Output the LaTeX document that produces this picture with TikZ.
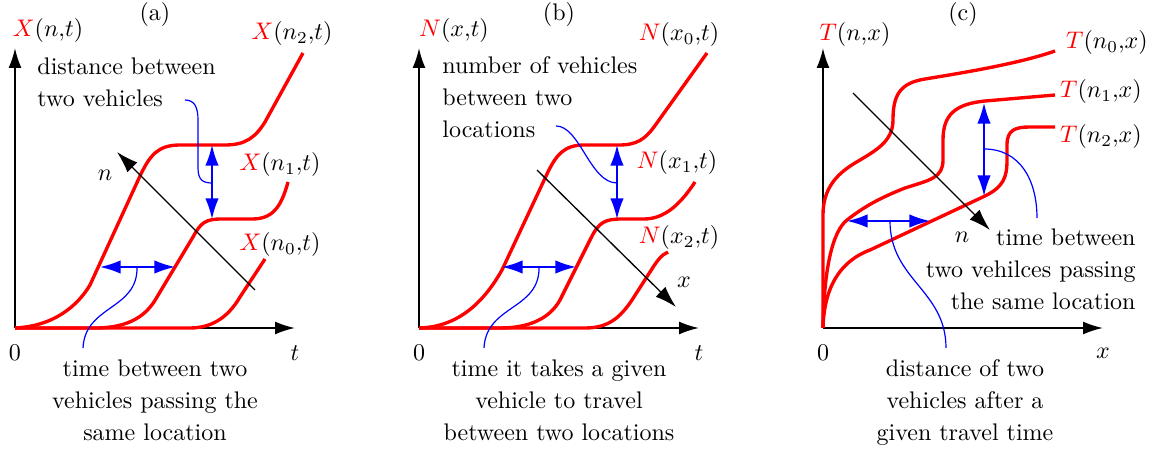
\documentclass[tikz,border=0pt]{standalone}
\usepackage{amsmath,amssymb}
\usetikzlibrary{arrows.meta}

\newcommand{\redsym}[1]{\textcolor{red}{#1}}

\begin{document}
\begin{tikzpicture}[x=0.41667pt,y=-0.41667pt,
    axisline/.style={line width=0.8pt,-{Latex[length=8.3pt,width=5.4pt]}},
    traj/.style={red,line width=1.4pt},
    gaparrow/.style={blue,line width=0.7pt,{Latex[length=8.6pt,width=5.6pt]}-{Latex[length=8.6pt,width=5.6pt]}},
    dirarrow/.style={line width=0.55pt,-{Latex[length=9pt,width=5.8pt]}},
    callout/.style={blue,line width=0.5pt},
    curvelabel/.style={font=\fontsize{9.6}{11}\selectfont},
    notetext/.style={inner sep=0pt,font={\fontsize{10}{13.4}\selectfont}}]

  \useasboundingbox (0,0) rectangle (1151,450);

  % --- PANEL (a): X(n,t) ---
  \begin{scope}
    \draw[axisline] (15,328) -- (15,48);
    \draw[axisline] (15,328) -- (295,328);
    \node (a-zero) at (15,353) {$0$};
    \node (a-t) at (295,353) {$t$};
    \node (a-title) at (155,15) {(a)};
    \node[curvelabel] (a-y) at (48,31) {$\redsym{X}(n{,}t)$};
    \draw[traj] (15,328) .. controls (55,326) and (78,305) .. (90,285) -- (140,176)
       .. controls (150,155) and (158,145) .. (180,145) -- (225,145)
       .. controls (245,145) and (255,138) .. (265,122) -- (303,53);
    \draw[traj] (15,328) -- (95,328) .. controls (130,328) and (147,315) .. (157,297)
       -- (193,237) .. controls (201,222) and (206,219) .. (222,219) -- (252,219)
       .. controls (272,219) and (281,208) .. (288,182);
    \draw[traj] (15,328) -- (190,328) .. controls (215,328) and (230,314) .. (240,297)
       -- (265,259);
    \node[curvelabel] (a-l2) at (292,34) {$\redsym{X}(n_2{,}t)$};
    \node[curvelabel] (a-l1) at (280,165) {$\redsym{X}(n_1{,}t)$};
    \node[curvelabel] (a-l0) at (280,245) {$\redsym{X}(n_0{,}t)$};
    \coordinate (a-ns) at (255,290);
    \coordinate (a-ne) at (117,152);
    \draw[dirarrow] (a-ns) -- (a-ne);
    \node (a-n) at (105,175) {$n$};
    \coordinate (a-v1) at (212,145);
    \coordinate (a-v2) at (212,219);
    \draw[gaparrow] (a-v1) -- (a-v2);
    \coordinate (a-h1) at (100,267);
    \coordinate (a-h2) at (175,267);
    \draw[gaparrow] (a-h1) -- (a-h2);
    \node[notetext,anchor=north west,align=left] (a-top) at (37,57)
         {distance between\\two vehicles};
    \node[notetext,anchor=north,align=center] (a-bot) at (155,359)
         {time between two\\vehicles passing the\\same location};
    \coordinate (a-c1) at (185,100);
    \coordinate (a-vm) at (212,183);
    \draw[callout] (a-c1) .. controls (195,100) and (198,108) .. (198,120) -- (198,168)
       .. controls (198,180) and (203,183) .. (a-vm);
    \coordinate (a-hm) at (137,267);
    \coordinate (a-c2) at (83,348);
    \draw[callout] (a-hm) .. controls (138,310) and (85,305) .. (a-c2);
  \end{scope}

  % --- PANEL (b): N(x,t) ---
  \begin{scope}[shift={(404,0)}]
    \draw[axisline] (15,328) -- (15,48);
    \draw[axisline] (15,328) -- (295,328);
    \node (b-zero) at (15,353) {$0$};
    \node (b-t) at (295,353) {$t$};
    \node (b-title) at (155,15) {(b)};
    \node[curvelabel] (b-y) at (50,31) {$\redsym{N}(x{,}t)$};
    \draw[traj] (15,328) .. controls (56,327) and (81,300) .. (98,270) -- (143,174)
       .. controls (152,155) and (160,145) .. (180,145) -- (215,145)
       .. controls (233,145) and (241,139) .. (250,127) -- (303,53);
    \draw[traj] (15,328) -- (96,328) .. controls (126,328) and (146,318) .. (156,300)
       -- (187,238) .. controls (195,222) and (201,219) .. (218,219) -- (240,219)
       .. controls (260,219) and (276,205) .. (291,182);
    \draw[traj] (15,328) -- (181,328) .. controls (204,328) and (216,318) .. (228,300)
       -- (246,272) .. controls (253,261) and (257,255) .. (264,252);
    \node[curvelabel] (b-l0) at (275,35) {$\redsym{N}(x_0{,}t)$};
    \node[curvelabel] (b-l1) at (273,163) {$\redsym{N}(x_1{,}t)$};
    \node[curvelabel] (b-l2) at (275,238) {$\redsym{N}(x_2{,}t)$};
    \coordinate (b-xs) at (133,170);
    \coordinate (b-xe) at (272,307);
    \draw[dirarrow] (b-xs) -- (b-xe);
    \node (b-x) at (280,282) {$x$};
    \coordinate (b-v1) at (213,145);
    \coordinate (b-v2) at (213,219);
    \draw[gaparrow] (b-v1) -- (b-v2);
    \coordinate (b-h1) at (98,267);
    \coordinate (b-h2) at (172,267);
    \draw[gaparrow] (b-h1) -- (b-h2);
    \node[notetext,anchor=north west,align=left] (b-top) at (38,56)
         {number of vehicles\\between two\\locations};
    \node[notetext,anchor=north,align=center] (b-bot) at (155,359)
         {time it takes a given\\vehicle to travel\\between two locations};
    \coordinate (b-c1) at (152,126);
    \coordinate (b-vm) at (213,183);
    \draw[callout] (b-c1) .. controls (176,126) and (186,183) .. (b-vm);
    \coordinate (b-hm) at (135,267);
    \coordinate (b-c2) at (80,348);
    \draw[callout] (b-hm) .. controls (136,310) and (82,305) .. (b-c2);
  \end{scope}

  % --- PANEL (c): T(n,x) ---
  \begin{scope}[shift={(808,0)}]
    \draw[axisline] (15,328) -- (15,48);
    \draw[axisline] (15,328) -- (295,328);
    \node (c-zero) at (15,353) {$0$};
    \node (c-x) at (295,353) {$x$};
    \node (c-title) at (155,15) {(c)};
    \node[curvelabel] (c-y) at (47,35) {$\redsym{T}(n{,}x)$};
    \draw[traj] (15,328) -- (15,215) .. controls (15,190) and (27,175) .. (47,163)
       .. controls (67,151) and (85,142) .. (85,120)
       .. controls (85,95) and (92,83) .. (117,79)
       .. controls (160,72) and (213,63) .. (247,51);
    \draw[traj] (15,328) .. controls (16,270) and (24,232) .. (39,220)
       .. controls (57,206) and (72,198) .. (97,188)
       .. controls (122,180) and (135,178) .. (135,160) -- (135,140)
       .. controls (135,115) and (147,104) .. (177,101) -- (247,95);
    \draw[traj] (15,328) .. controls (16,290) and (30,262) .. (62,250) -- (177,196)
       .. controls (195,187) and (199,178) .. (199,160) -- (199,145)
       .. controls (199,130) and (207,127) .. (222,127) -- (247,127);
    \node[curvelabel] (c-l0) at (299,43) {$\redsym{T}(n_0{,}x)$};
    \node[curvelabel] (c-l1) at (293,92) {$\redsym{T}(n_1{,}x)$};
    \node[curvelabel] (c-l2) at (293,137) {$\redsym{T}(n_2{,}x)$};
    \coordinate (c-ns) at (45,93);
    \coordinate (c-ne) at (182,230);
    \draw[dirarrow] (c-ns) -- (c-ne);
    \node (c-n) at (154,237) {$n$};
    \coordinate (c-v1) at (176,103);
    \coordinate (c-v2) at (176,196);
    \draw[gaparrow] (c-v1) -- (c-v2);
    \coordinate (c-h1) at (39,221);
    \coordinate (c-h2) at (122,221);
    \draw[gaparrow] (c-h1) -- (c-h2);
    \node[notetext,anchor=north east,align=right] (c-right) at (328,228)
         {time between\\two vehilces passing\\the same location};
    \node[notetext,anchor=north,align=center] (c-bot) at (157,359)
         {distance of two\\vehicles after a\\given travel time};
    \coordinate (c-vm) at (176,149);
    \coordinate (c-c1) at (229,218);
    \draw[callout] (c-vm) .. controls (212,149) and (229,180) .. (c-c1);
    \coordinate (c-hm) at (82,221);
    \coordinate (c-c2) at (138,348);
    \draw[callout] (c-hm) .. controls (82,280) and (138,290) .. (c-c2);
  \end{scope}

\end{tikzpicture}
\end{document}
